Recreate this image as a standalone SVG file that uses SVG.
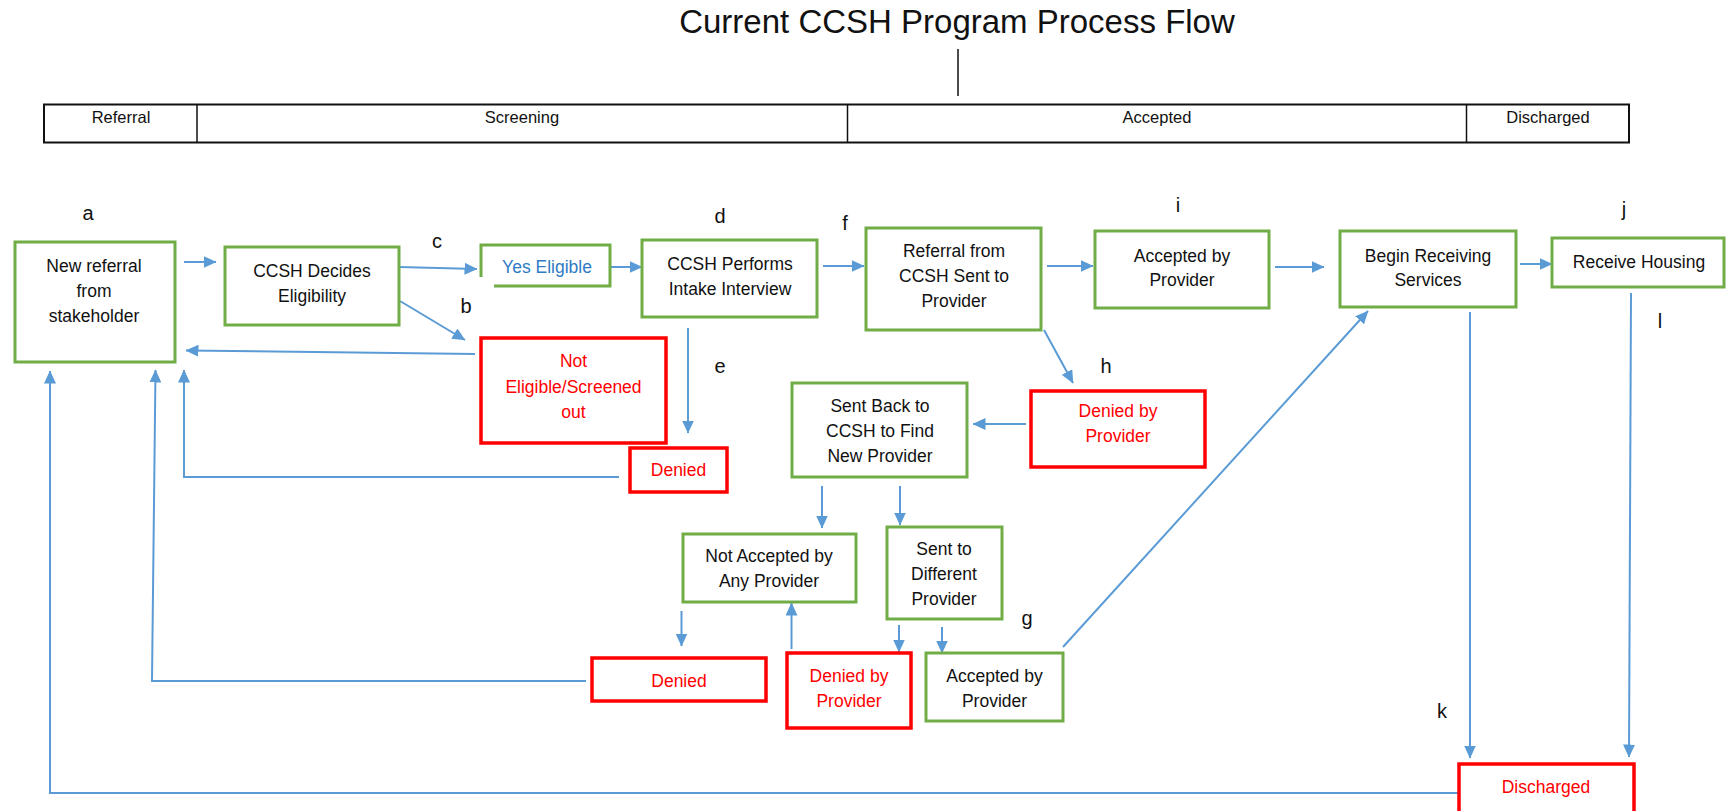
<svg xmlns="http://www.w3.org/2000/svg" width="1726" height="811" viewBox="0 0 1726 811">
  <defs>
    <marker id="arrow" markerUnits="userSpaceOnUse" markerWidth="13" markerHeight="12" refX="12.5" refY="6" orient="auto">
      <path d="M0,0 L13,6 L0,12 Z" fill="#5B9BD5"/>
    </marker>
    <style>
      text { font-family: "Liberation Sans", Arial, sans-serif; }
      .title { font-size: 33px; fill: #111; text-anchor: middle; }
      .phase { font-size: 16.5px; fill: #111; text-anchor: middle; }
      .phase-box { fill: none; stroke: #111; stroke-width: 2; }
      .phase-div { stroke: #111; stroke-width: 1.5; }
      .ok { fill: #fff; stroke: #70AD47; stroke-width: 3; }
      .no { fill: #fff; stroke: #FF0000; stroke-width: 3.5; }
      .t { font-size: 17.5px; fill: #111; text-anchor: middle; }
      .tr { font-size: 17.5px; fill: #FF0000; text-anchor: middle; }
      .tb { font-size: 17.5px; fill: #2E7BC4; text-anchor: middle; }
      .step { font-size: 20px; fill: #111; text-anchor: middle; }
      .c { fill: none; stroke: #5B9BD5; stroke-width: 2; marker-end: url(#arrow); }
    </style>
  </defs>

  <rect width="1726" height="811" fill="#fff"/>

  <!-- heading and phase bar -->
  <g id="heading">
    <text class="title" x="957" y="33">Current CCSH Program Process Flow</text>
    <line x1="958" y1="49" x2="958" y2="96" stroke="#111" stroke-width="1.5"/>
  </g>
  <g id="phases">
    <rect class="phase-box" x="44" y="104.5" width="1585" height="38"/>
    <line class="phase-div" x1="197" y1="104.5" x2="197" y2="142.5"/>
    <line class="phase-div" x1="847.5" y1="104.5" x2="847.5" y2="142.5"/>
    <line class="phase-div" x1="1466.5" y1="104.5" x2="1466.5" y2="142.5"/>
    <text class="phase" x="121" y="123">Referral</text>
    <text class="phase" x="522" y="123">Screening</text>
    <text class="phase" x="1157" y="123">Accepted</text>
    <text class="phase" x="1548" y="123">Discharged</text>
  </g>

  <!-- connectors -->
  <g id="connectors">
    <path class="c" d="M184,262 L216,262"/>
    <path class="c" d="M399,267 L477,269"/>
    <path class="c" d="M610,267 L642,267"/>
    <path class="c" d="M823,266 L864,266"/>
    <path class="c" d="M1047,266 L1093,266"/>
    <path class="c" d="M1275,267 L1324,267"/>
    <path class="c" d="M1520,264 L1552,264"/>
    <path class="c" d="M400,301 L465,340"/>
    <path class="c" d="M475,354 L186,350.5"/>
    <path class="c" d="M688,328 L688,433"/>
    <path class="c" d="M619,477 L184,477 L184,370"/>
    <path class="c" d="M1044,330 L1073,383"/>
    <path class="c" d="M1026,424 L973,424"/>
    <path class="c" d="M822,486 L822,528"/>
    <path class="c" d="M900,486 L900,525"/>
    <path class="c" d="M681.5,611 L681.5,646"/>
    <path class="c" d="M791.5,649 L791.5,603"/>
    <path class="c" d="M899,625 L899,652"/>
    <path class="c" d="M942,627 L942,653"/>
    <path class="c" d="M1063,647 L1368,311"/>
    <path class="c" d="M1470,312 L1470,758"/>
    <path class="c" d="M1631,293 L1629,757"/>
    <path class="c" d="M586,681 L152,681 L155.5,370"/>
    <path class="c" d="M1459,793 L50,793 L50,371"/>
  </g>

  <!-- process steps -->
  <g id="new-referral">
    <rect class="ok" x="15" y="242" width="160" height="120"/>
    <text class="t" x="94" y="272">New referral</text>
    <text class="t" x="94" y="297">from</text>
    <text class="t" x="94" y="322">stakeholder</text>
  </g>
  <g id="decides-eligibility">
    <rect class="ok" x="225" y="247" width="174" height="78"/>
    <text class="t" x="312" y="277">CCSH Decides</text>
    <text class="t" x="312" y="302">Eligibility</text>
  </g>
  <g id="yes-eligible">
    <path class="ok" fill="none" d="M481,277 L481,245 L610,245 L610,286 L494,286"/>
    <text class="tb" x="547" y="273">Yes Eligible</text>
  </g>
  <g id="intake-interview">
    <rect class="ok" x="642" y="240" width="175" height="77"/>
    <text class="t" x="730" y="270">CCSH Performs</text>
    <text class="t" x="730" y="295">Intake Interview</text>
  </g>
  <g id="sent-to-provider">
    <rect class="ok" x="866" y="228" width="175" height="102"/>
    <text class="t" x="954" y="257">Referral from</text>
    <text class="t" x="954" y="282">CCSH Sent to</text>
    <text class="t" x="954" y="307">Provider</text>
  </g>
  <g id="accepted-by-provider">
    <rect class="ok" x="1095" y="231" width="174" height="77"/>
    <text class="t" x="1182" y="262">Accepted by</text>
    <text class="t" x="1182" y="286">Provider</text>
  </g>
  <g id="begin-services">
    <rect class="ok" x="1340" y="231" width="176" height="76"/>
    <text class="t" x="1428" y="262">Begin Receiving</text>
    <text class="t" x="1428" y="286">Services</text>
  </g>
  <g id="receive-housing">
    <rect class="ok" x="1552" y="238" width="172" height="49"/>
    <text class="t" x="1639" y="268">Receive Housing</text>
  </g>
  <g id="not-eligible">
    <rect class="no" x="481" y="338" width="185" height="105"/>
    <text class="tr" x="573.5" y="367">Not</text>
    <text class="tr" x="573.5" y="393">Eligible/Screened</text>
    <text class="tr" x="573.5" y="418">out</text>
  </g>
  <g id="denied-intake">
    <rect class="no" x="630" y="448" width="97" height="44"/>
    <text class="tr" x="678.5" y="476">Denied</text>
  </g>
  <g id="sent-back">
    <rect class="ok" x="792" y="383" width="175" height="94"/>
    <text class="t" x="880" y="412">Sent Back to</text>
    <text class="t" x="880" y="437">CCSH to Find</text>
    <text class="t" x="880" y="462">New Provider</text>
  </g>
  <g id="denied-by-provider">
    <rect class="no" x="1031" y="391" width="174" height="76"/>
    <text class="tr" x="1118" y="417">Denied by</text>
    <text class="tr" x="1118" y="442">Provider</text>
  </g>
  <g id="not-accepted">
    <rect class="ok" x="683" y="534" width="173" height="68"/>
    <text class="t" x="769" y="562">Not Accepted by</text>
    <text class="t" x="769" y="587">Any Provider</text>
  </g>
  <g id="sent-different">
    <rect class="ok" x="887" y="527" width="115" height="92"/>
    <text class="t" x="944" y="555">Sent to</text>
    <text class="t" x="944" y="580">Different</text>
    <text class="t" x="944" y="605">Provider</text>
  </g>
  <g id="denied-final">
    <rect class="no" x="592" y="658" width="174" height="43"/>
    <text class="tr" x="679" y="687">Denied</text>
  </g>
  <g id="denied-by-provider-2">
    <rect class="no" x="787" y="653" width="124" height="75"/>
    <text class="tr" x="849" y="682">Denied by</text>
    <text class="tr" x="849" y="707">Provider</text>
  </g>
  <g id="accepted-by-provider-2">
    <rect class="ok" x="926" y="653" width="137" height="68"/>
    <text class="t" x="994.5" y="682">Accepted by</text>
    <text class="t" x="994.5" y="707">Provider</text>
  </g>
  <g id="discharged">
    <rect class="no" x="1459" y="764" width="175" height="70"/>
    <text class="tr" x="1546" y="793">Discharged</text>
  </g>

  <!-- step letters -->
  <g id="step-letters">
    <text class="step" x="88" y="220">a</text>
    <text class="step" x="466" y="313">b</text>
    <text class="step" x="437" y="248">c</text>
    <text class="step" x="720" y="223">d</text>
    <text class="step" x="720" y="373">e</text>
    <text class="step" x="845" y="230">f</text>
    <text class="step" x="1027" y="625">g</text>
    <text class="step" x="1106" y="373">h</text>
    <text class="step" x="1178" y="212">i</text>
    <text class="step" x="1624" y="216">j</text>
    <text class="step" x="1442" y="718">k</text>
    <text class="step" x="1660" y="328">l</text>
  </g>
</svg>
